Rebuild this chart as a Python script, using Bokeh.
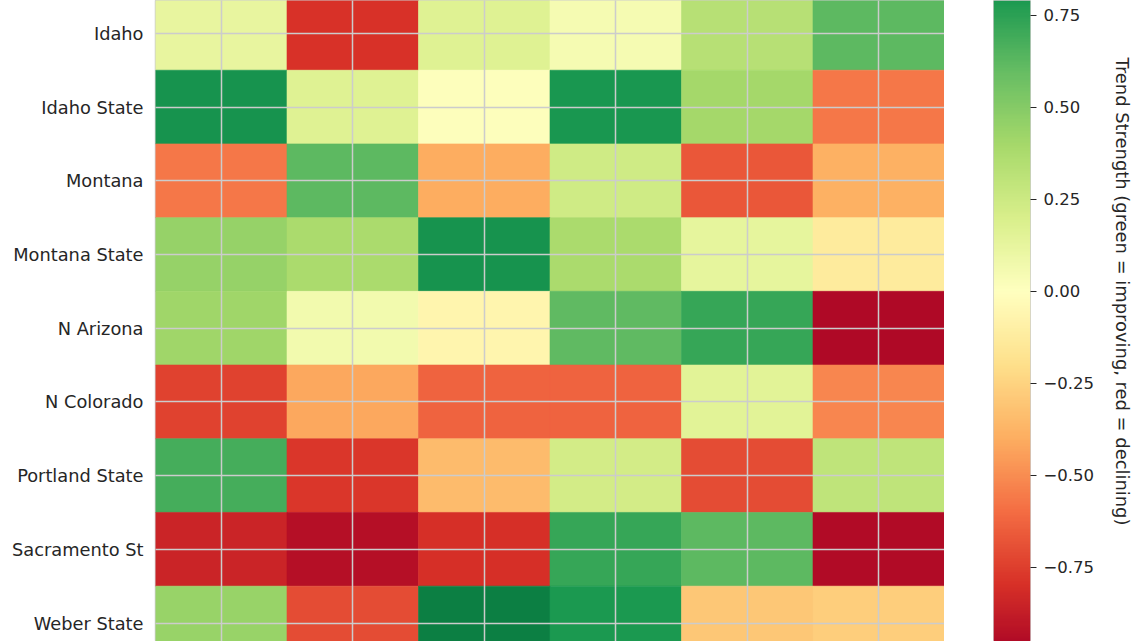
import numpy as np
from bokeh.plotting import figure
from bokeh.layouts import row
from bokeh.models import ColumnDataSource, Range1d, FixedTicker, LinearColorMapper
from bokeh.core.properties import value
from bokeh.embed import file_html
from bokeh.resources import INLINE

# ---------------- data ----------------
teams = ["Idaho", "Idaho State", "Montana", "Montana State", "N Arizona",
         "N Colorado", "Portland State", "Sacramento St", "Weber State"]
metrics = ["M1", "M2", "M3", "M4", "M5", "M6"]

idaho          = [0.12, -0.79, 0.17, 0.05, 0.33, 0.62]
idaho_state    = [0.82, 0.17, 0.01, 0.80, 0.40, -0.57]
montana        = [-0.57, 0.62, -0.40, 0.24, -0.67, -0.39]
montana_state  = [0.45, 0.38, 0.82, 0.38, 0.13, -0.13]
n_arizona      = [0.42, 0.07, -0.07, 0.61, 0.72, -0.96]
n_colorado     = [-0.74, -0.42, -0.63, -0.63, 0.15, -0.52]
portland_state = [0.68, -0.78, -0.35, 0.22, -0.71, 0.30]
sacramento_st  = [-0.85, -0.93, -0.80, 0.72, 0.62, -0.95]
weber_state    = [0.44, -0.71, 0.90, 0.79, -0.30, -0.27]

rows_vals = [idaho, idaho_state, montana, montana_state, n_arizona,
             n_colorado, portland_state, sacramento_st, weber_state]

cb_ticks = [-0.75, -0.5, -0.25, 0.0, 0.25, 0.5, 0.75]
cb_labels = ["\u22120.75", "\u22120.50", "\u22120.25", "0.00", "0.25", "0.50", "0.75"]
cb_title = "Trend Strength (green = improving, red = declining)"

# ---------------- style: RdYlGn colormap ----------------
anchors = ["#a50026", "#d73027", "#f46d43", "#fdae61", "#fee08b", "#ffffbf",
           "#d9ef8b", "#a6d96a", "#66bd63", "#1a9850", "#006837"]
def hex2rgb(h):
    return [int(h[i:i + 2], 16) for i in (1, 3, 5)]
arr = np.array([hex2rgb(a) for a in anchors], dtype=float)
pos = np.linspace(0, 1, len(anchors))
palette = []
for tt in np.linspace(0, 1, 256):
    c = [np.interp(tt, pos, arr[:, k]) for k in range(3)]
    palette.append("#%02x%02x%02x" % tuple(int(round(v)) for v in c))

VMIN, VMAX = -1.0, 1.0
mapper = LinearColorMapper(palette=palette, low=VMIN, high=VMAX)

FONT = "DejaVu Sans"
TXT = "#262626"
GRID = "#cccccc"
H = 641

# ---------------- heatmap ----------------
xs, ys, vs = [], [], []
for r, vals in enumerate(rows_vals):
    for c, v in enumerate(vals):
        xs.append(c)
        ys.append(r)
        vs.append(v)
src = ColumnDataSource(dict(x=xs, y=ys, v=vs))

p = figure(width=944, height=H, x_range=Range1d(-0.5, 5.5),
           y_range=Range1d(8.251, -0.446), toolbar_location=None,
           output_backend="svg", min_border_left=155, min_border_right=0,
           min_border_top=0, min_border_bottom=0)
p.rect(x="x", y="y", width=1, height=1, source=src,
       fill_color={"field": "v", "transform": mapper},
       line_color={"field": "v", "transform": mapper}, line_width=0.6)

p.xaxis.visible = False
p.xgrid.ticker = FixedTicker(ticks=list(range(len(metrics))))
p.yaxis.ticker = FixedTicker(ticks=list(range(len(teams))))
p.yaxis.major_label_overrides = {i: t_ for i, t_ in enumerate(teams)}
p.yaxis.major_tick_out = 0
p.yaxis.major_tick_in = 0
p.yaxis.minor_tick_out = 0
p.yaxis.minor_tick_in = 0
p.yaxis.axis_line_color = None
p.yaxis.major_label_standoff = 12
p.yaxis.major_label_text_font = FONT
p.yaxis.major_label_text_font_size = "17.8px"
p.yaxis.major_label_text_color = TXT
for g in (p.xgrid, p.ygrid):
    g.grid_line_color = GRID
    g.grid_line_width = 1.5
    g.level = "annotation"
p.outline_line_color = GRID
p.outline_line_width = 1.5

# ---------------- colorbar (narrow figure) ----------------
cb_low = -0.951
cb_high = 0.790
p2 = figure(width=166, height=H, x_range=Range1d(0, 1),
            y_range=Range1d(cb_low, cb_high), toolbar_location=None,
            output_backend="svg", y_axis_location="right",
            min_border_left=49, min_border_right=80, min_border_top=0,
            min_border_bottom=0, frame_width=37)
grad = np.linspace(cb_low, cb_high, 700).reshape(-1, 1)
p2.image(image=[grad], x=0, y=cb_low, dw=1, dh=cb_high - cb_low,
         color_mapper=mapper)
p2.xaxis.visible = False
p2.xgrid.visible = False
p2.ygrid.visible = False
p2.yaxis.ticker = FixedTicker(ticks=cb_ticks)
p2.yaxis.major_label_overrides = {k: l for k, l in zip(cb_ticks, cb_labels)}
p2.yaxis.axis_line_color = None
p2.yaxis.major_tick_out = 6
p2.yaxis.major_tick_in = 0
p2.yaxis.minor_tick_out = 0
p2.yaxis.minor_tick_in = 0
p2.yaxis.major_tick_line_color = TXT
p2.yaxis.major_label_standoff = 7
p2.yaxis.major_label_text_font = FONT
p2.yaxis.major_label_text_font_size = "16.5px"
p2.yaxis.major_label_text_color = TXT
p2.outline_line_color = GRID
p2.outline_line_width = 1

# ---------------- colorbar title (narrow figure) ----------------
p3 = figure(width=30, height=H, x_range=Range1d(0, 30), y_range=Range1d(H, 0),
            toolbar_location=None, output_backend="svg",
            min_border_left=0, min_border_right=0, min_border_top=0,
            min_border_bottom=0)
p3.axis.visible = False
p3.grid.visible = False
p3.outline_line_color = None
p3.text(x=[11.5], y=[291], text=[cb_title], angle=-np.pi / 2,
        text_align="center", text_baseline="middle",
        text_font=value(FONT), text_font_size="17.9px", text_color=TXT)

layout = row(p, p2, p3)
open("out.html", "w").write(file_html(layout, INLINE))
